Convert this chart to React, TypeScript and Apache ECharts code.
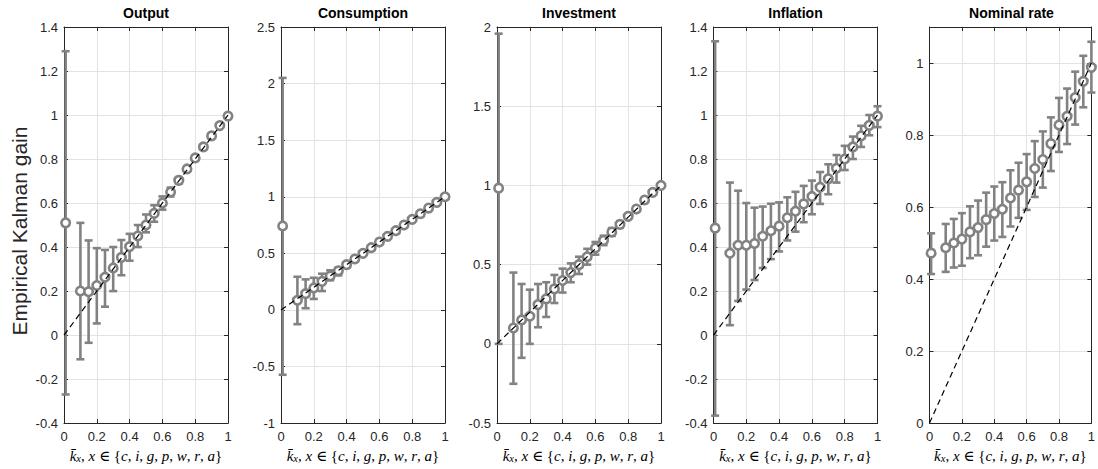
import React, { useEffect, useRef } from "react";
import * as echarts from "echarts";

// Observation-noise share k̄ used for each estimation run
const KX = [0.01, 0.1, 0.15, 0.2, 0.25, 0.3, 0.35, 0.4, 0.45, 0.5, 0.55, 0.6, 0.65, 0.7, 0.75, 0.8, 0.85, 0.9, 0.95, 1.0];

// 45-degree reference line
const DIAGONAL = [[0, 0], [1, 1]];

const OUTPUT_MEAN = [0.51, 0.2, 0.197, 0.225, 0.263, 0.305, 0.353, 0.402, 0.45, 0.5, 0.553, 0.6, 0.65, 0.703, 0.755, 0.805, 0.855, 0.905, 0.952, 0.995];
const OUTPUT_LO = [-0.27, -0.11, -0.035, 0.053, 0.129, 0.2, 0.272, 0.338, 0.4, 0.467, 0.515, 0.57, 0.63, 0.688, 0.745, 0.795, 0.845, 0.897, 0.947, 0.99];
const OUTPUT_HI = [1.29, 0.51, 0.43, 0.395, 0.387, 0.4, 0.432, 0.46, 0.5, 0.548, 0.59, 0.63, 0.67, 0.718, 0.765, 0.815, 0.865, 0.913, 0.957, 1.0];

const CONS_MEAN = [0.742, 0.085, 0.144, 0.194, 0.252, 0.3, 0.346, 0.4, 0.45, 0.5, 0.55, 0.6, 0.65, 0.7, 0.75, 0.8, 0.85, 0.9, 0.95, 1.0];
const CONS_LO = [-0.573, -0.126, 0.015, 0.097, 0.167, 0.262, 0.305, 0.375, 0.433, 0.488, 0.54, 0.59, 0.642, 0.693, 0.745, 0.795, 0.846, 0.896, 0.947, 0.997];
const CONS_HI = [2.05, 0.293, 0.27, 0.284, 0.32, 0.35, 0.375, 0.42, 0.465, 0.512, 0.56, 0.61, 0.658, 0.707, 0.755, 0.805, 0.854, 0.904, 0.953, 1.003];

const INV_MEAN = [0.983, 0.1, 0.151, 0.174, 0.248, 0.284, 0.347, 0.4, 0.45, 0.5, 0.55, 0.605, 0.653, 0.706, 0.754, 0.805, 0.851, 0.908, 0.956, 1.0];
const INV_LO = [0.0, -0.252, -0.088, 0.0, 0.105, 0.17, 0.258, 0.324, 0.389, 0.441, 0.5, 0.563, 0.623, 0.681, 0.734, 0.79, 0.841, 0.898, 0.951, 0.995];
const INV_HI = [1.958, 0.45, 0.378, 0.342, 0.378, 0.389, 0.435, 0.475, 0.508, 0.55, 0.6, 0.643, 0.683, 0.731, 0.774, 0.82, 0.861, 0.918, 0.961, 1.005];

const INFL_MEAN = [0.486, 0.372, 0.408, 0.408, 0.416, 0.449, 0.474, 0.495, 0.533, 0.563, 0.596, 0.63, 0.672, 0.71, 0.758, 0.8, 0.855, 0.905, 0.953, 0.995];
const INFL_LO = [-0.366, 0.045, 0.155, 0.207, 0.25, 0.305, 0.345, 0.38, 0.43, 0.47, 0.513, 0.549, 0.596, 0.64, 0.693, 0.75, 0.8, 0.855, 0.908, 0.945];
const INFL_HI = [1.335, 0.693, 0.656, 0.6, 0.579, 0.584, 0.597, 0.603, 0.626, 0.651, 0.678, 0.702, 0.741, 0.776, 0.818, 0.86, 0.902, 0.951, 1.0, 1.04];

const RATE_MEAN = [0.472, 0.487, 0.5, 0.511, 0.531, 0.543, 0.565, 0.582, 0.594, 0.625, 0.647, 0.67, 0.707, 0.732, 0.776, 0.828, 0.852, 0.904, 0.949, 0.988];
const RATE_LO = [0.414, 0.42, 0.432, 0.437, 0.458, 0.466, 0.49, 0.507, 0.517, 0.546, 0.57, 0.592, 0.628, 0.654, 0.7, 0.753, 0.775, 0.829, 0.877, 0.918];
const RATE_HI = [0.527, 0.553, 0.567, 0.583, 0.602, 0.618, 0.64, 0.657, 0.669, 0.702, 0.723, 0.747, 0.783, 0.81, 0.849, 0.903, 0.929, 0.976, 1.02, 1.059];

const TITLES = ["Output", "Consumption", "Investment", "Inflation", "Nominal rate"];
const Y_MIN = [-0.4, -1, -0.5, -0.4, 0];
const Y_MAX = [1.4, 2.5, 2, 1.4, 1.1];
const Y_STEP = [0.2, 0.5, 0.5, 0.2, 0.2];
const MEANS = [OUTPUT_MEAN, CONS_MEAN, INV_MEAN, INFL_MEAN, RATE_MEAN];
const LOWS = [OUTPUT_LO, CONS_LO, INV_LO, INFL_LO, RATE_LO];
const HIGHS = [OUTPUT_HI, CONS_HI, INV_HI, INFL_HI, RATE_HI];

const Y_LABEL = "Empirical Kalman gain";

// layout
const GRID_LEFT = [64, 281, 497, 713.5, 929.5];
const GRID_TOP = 27;
const GRID_W = 164;
const GRID_H = 399;

const AXIS = "#262626";
const GRIDLINE = "#e3e3e3";
const BAR = "#828282";
const SANS = "'Liberation Sans', Arial, Helvetica, sans-serif";
const SERIF = "'Liberation Serif', 'DejaVu Serif', serif";

function fmt(v: number) {
  return String(parseFloat(v.toFixed(3)));
}

function buildOption() {
  const xAxis: any[] = [];
  const yAxis: any[] = [];
  const grid: any[] = [];
  const series: any[] = [];
  const graphic: any[] = [];

  const xName =
    "{kb|k̄}{sub|x}, {i|x} ∈ {{i|c}, {i|i}, {i|g}, {i|p}, {i|w}, {i|r}, {i|a}}";

  TITLES.forEach((title, p) => {
    grid.push({ left: GRID_LEFT[p], top: GRID_TOP, width: GRID_W, height: GRID_H });

    const tick = { show: true, inside: true, length: 4, lineStyle: { color: AXIS, width: 1 } };
    const line = { show: true, onZero: false, lineStyle: { color: AXIS, width: 1 } };

    xAxis.push({
      gridIndex: p,
      type: "value",
      position: "bottom",
      min: 0,
      max: 1,
      interval: 0.2,
      axisLine: line,
      axisTick: tick,
      axisLabel: { color: AXIS, fontSize: 13, fontFamily: SANS, margin: 7, formatter: (v: number) => fmt(v) },
      splitLine: { show: true, lineStyle: { color: GRIDLINE, width: 1 } },
      name: xName,
      nameLocation: "middle",
      nameGap: 19,
      nameTextStyle: {
        color: "#000",
        fontSize: 15,
        fontFamily: SERIF,
        rich: {
          kb: { fontSize: 15, fontStyle: "italic", fontFamily: SERIF, color: "#000" },
          sub: { fontSize: 10.5, fontStyle: "italic", fontFamily: SERIF, color: "#000", verticalAlign: "bottom", padding: [6, 0, 0, 0] },
          i: { fontSize: 15, fontStyle: "italic", fontFamily: SERIF, color: "#000" },
        },
      },
    });
    xAxis.push({
      gridIndex: p,
      type: "value",
      position: "top",
      min: 0,
      max: 1,
      interval: 0.2,
      axisLine: line,
      axisTick: tick,
      axisLabel: { show: false },
      splitLine: { show: false },
    });

    const step = Y_STEP[p];
    yAxis.push({
      gridIndex: p,
      type: "value",
      position: "left",
      min: Y_MIN[p],
      max: Y_MAX[p],
      interval: step,
      axisLine: line,
      axisTick: tick,
      axisLabel: {
        color: AXIS,
        fontSize: 13,
        fontFamily: SANS,
        margin: 6,
        formatter: (v: number) => {
          const r = (v - Y_MIN[p]) / step;
          return Math.abs(r - Math.round(r)) < 1e-6 ? fmt(v) : "";
        },
      },
      splitLine: { show: true, lineStyle: { color: GRIDLINE, width: 1 } },
    });
    yAxis.push({
      gridIndex: p,
      type: "value",
      position: "right",
      min: Y_MIN[p],
      max: Y_MAX[p],
      interval: step,
      axisLine: line,
      axisTick: tick,
      axisLabel: { show: false },
      splitLine: { show: false },
    });

    const mean = MEANS[p];
    const lo = LOWS[p];
    const hi = HIGHS[p];

    // error bars with caps
    series.push({
      type: "custom",
      xAxisIndex: 2 * p,
      yAxisIndex: 2 * p,
      z: 2,
      silent: true,
      encode: { x: 0, y: [1, 2] },
      data: KX.map((x, j) => [x, lo[j], hi[j]]),
      renderItem: (params: any, api: any) => {
        const x = api.value(0);
        const top = api.coord([x, api.value(2)]);
        const bot = api.coord([x, api.value(1)]);
        const cw = 4;
        const st = { stroke: BAR, lineWidth: 2.6, lineCap: "butt" };
        return {
          type: "group",
          children: [
            { type: "line", shape: { x1: top[0], y1: top[1], x2: bot[0], y2: bot[1] }, style: st },
            { type: "line", shape: { x1: top[0] - cw, y1: top[1], x2: top[0] + cw, y2: top[1] }, style: st },
            { type: "line", shape: { x1: bot[0] - cw, y1: bot[1], x2: bot[0] + cw, y2: bot[1] }, style: st },
          ],
        };
      },
    });

    // point estimates
    series.push({
      type: "scatter",
      xAxisIndex: 2 * p,
      yAxisIndex: 2 * p,
      z: 3,
      silent: true,
      symbol: "circle",
      symbolSize: 8.5,
      itemStyle: { color: "#ffffff", borderColor: BAR, borderWidth: 2.6, opacity: 1 },
      data: KX.map((x, j) => [x, mean[j]]),
    });

    // 45-degree line
    series.push({
      type: "line",
      xAxisIndex: 2 * p,
      yAxisIndex: 2 * p,
      z: 4,
      silent: true,
      symbol: "none",
      lineStyle: { color: "#000", width: 1.2, type: [6, 4] },
      data: DIAGONAL,
    });

    graphic.push({
      type: "text",
      x: GRID_LEFT[p] + GRID_W / 2,
      y: 13,
      style: {
        text: title,
        fontSize: 14,
        fontWeight: "bold",
        fontFamily: SANS,
        fill: "#000",
        align: "center",
        verticalAlign: "middle",
      },
    });
  });

  graphic.push({
    type: "text",
    x: 19,
    y: 231,
    rotation: Math.PI / 2,
    style: {
      text: Y_LABEL,
      fontSize: 21,
      fontFamily: SANS,
      fill: AXIS,
      align: "center",
      verticalAlign: "middle",
    },
  });

  return {
    animation: false,
    backgroundColor: "#ffffff",
    grid,
    xAxis,
    yAxis,
    series,
    graphic,
  };
}

export default function App() {
  const ref = useRef<HTMLDivElement>(null);
  useEffect(() => {
    if (!ref.current) return;
    const chart = echarts.init(ref.current, null, { renderer: "svg" });
    chart.setOption(buildOption());
    return () => chart.dispose();
  }, []);
  return (
    <div
      ref={ref}
      style={{ position: "fixed", left: 0, top: 0, width: 1098, height: 469, background: "#fff" }}
    />
  );
}
